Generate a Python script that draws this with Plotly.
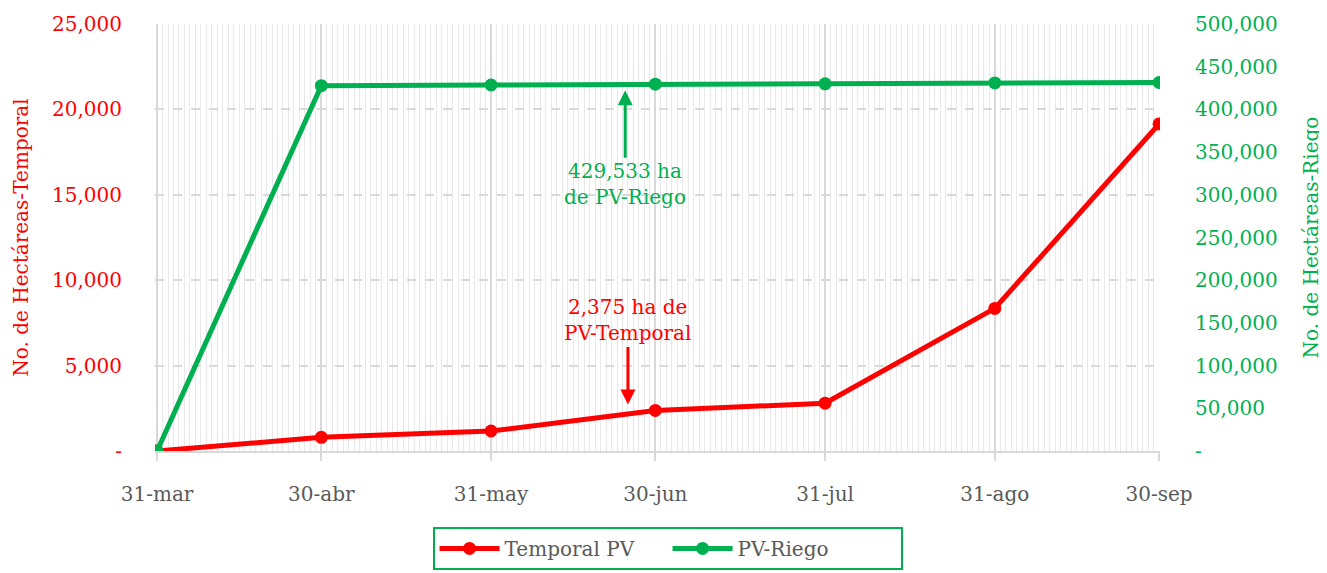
import plotly.graph_objects as go

dates = ["2023-03-31", "2023-04-30", "2023-05-31", "2023-06-30", "2023-07-31", "2023-08-31", "2023-09-30"]
date_labels = ["31-mar", "30-abr", "31-may", "30-jun", "31-jul", "31-ago", "30-sep"]
temporal = [0, 800, 1170, 2375, 2800, 8350, 19150]
riego = [0, 427800, 428600, 429533, 429900, 431000, 431500]

RED = "#ff0000"
GREEN = "#00b050"
FONT = "DejaVu Serif"
FS = 20

fig = go.Figure()
fig.add_trace(go.Scatter(x=dates, y=temporal, name="Temporal PV", mode="lines+markers",
                         line=dict(color=RED, width=5), marker=dict(size=13, color=RED), yaxis="y"))
fig.add_trace(go.Scatter(x=dates, y=riego, name="PV-Riego", mode="lines+markers",
                         line=dict(color=GREEN, width=5), marker=dict(size=13, color=GREEN), yaxis="y2"))

fig.add_annotation(x="2023-06-24 12:00", y=429533, xref="x", yref="y2", ax=0, ay=100,
                   showarrow=True, arrowhead=2, arrowsize=1, arrowwidth=3, arrowcolor=GREEN,
                   text="429,533 ha<br>de PV-Riego", font=dict(family=FONT, size=FS, color=GREEN),
                   standoff=6)
fig.add_annotation(x="2023-06-25", y=2375, xref="x", yref="y", ax=0, ay=-90,
                   showarrow=True, arrowhead=2, arrowsize=1, arrowwidth=3, arrowcolor=RED,
                   text="2,375 ha de<br>PV-Temporal", font=dict(family=FONT, size=FS, color=RED),
                   standoff=6)

fig.update_layout(
    width=1327, height=573,
    margin=dict(l=147, r=175, t=16, b=129),
    plot_bgcolor="white", paper_bgcolor="white",
    font=dict(family=FONT, size=FS, color="#595959"),
    showlegend=True,
    legend=dict(orientation="h", x=0.51, xanchor="center", y=-0.175, yanchor="top",
                bordercolor=GREEN, borderwidth=2, font=dict(size=FS, color="#595959"),
                entrywidth=158, itemwidth=60),
    xaxis=dict(type="date", range=["2023-03-30 15:00", "2023-09-30 04:00"],
               tickmode="array", tickvals=dates, ticktext=date_labels, automargin=False,
               showgrid=True, gridcolor="#d9d9d9", gridwidth=2,
               minor=dict(dtick=86400000, showgrid=True, gridcolor="#e8e8e8", gridwidth=1),
               ticks="outside", ticklen=8, tickcolor="#d9d9d9", tickwidth=2,
               ticklabelstandoff=16,
               tickfont=dict(color="#595959", size=FS), zeroline=False,
               showline=True, linecolor="#d9d9d9", linewidth=2),
    yaxis=dict(range=[0, 25000], tickvals=[0, 5000, 10000, 15000, 20000, 25000],
               ticktext=["-", "5,000", "10,000", "15,000", "20,000", "25,000"],
               tickfont=dict(color=RED, size=FS), showgrid=True, gridcolor="#d9d9d9",
               griddash="dash", gridwidth=1.5, zeroline=False, ticklabelstandoff=32,
               automargin=False,
               title=dict(text="No. de Hectáreas-Temporal", font=dict(color=RED, size=FS), standoff=18)),
    yaxis2=dict(range=[0, 500000], overlaying="y", side="right",
                tickvals=[0, 50000, 100000, 150000, 200000, 250000, 300000, 350000, 400000, 450000, 500000],
                ticktext=["-", "50,000", "100,000", "150,000", "200,000", "250,000", "300,000",
                          "350,000", "400,000", "450,000", "500,000"],
                tickfont=dict(color=GREEN, size=FS), showgrid=False, zeroline=False,
                ticklabelstandoff=34, automargin=False,
                title=dict(text="No. de Hectáreas-Riego", font=dict(color=GREEN, size=FS), standoff=27)),
)

fig.write_html("out.html")
